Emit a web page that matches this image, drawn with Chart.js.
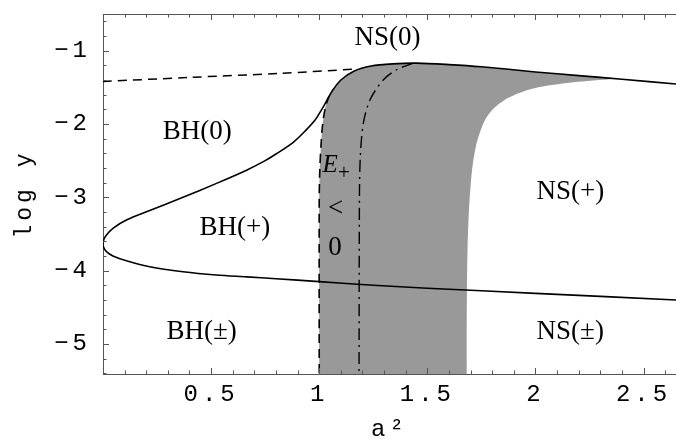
<!DOCTYPE html>
<html lang="en">
<head>
<meta charset="UTF-8">
<title>log y against a²</title>
<script src="https://cdn.jsdelivr.net/npm/chart.js"></script>
<style>
  html, body { margin: 0; padding: 0; background: #fff; }
  #wrap { width: 676px; height: 439px; }
</style>
</head>
<body>
<div id="wrap"><canvas id="phase"></canvas></div>
<script>
// axis ranges
const xRange = [0, 2.65];
const yRange = [-5.41, -0.5];

// solid boundary, nose at a² = 0
const noseA = [0];
const noseV = [-3.637];
const lowerA = [0.004, 0.016, 0.046, 0.108, 0.216, 0.37, 0.525, 0.664, 0.8, 1.0, 1.25, 1.5, 2.0, 2.65];
const lowerV = [-3.69, -3.74, -3.80, -3.865, -3.947, -4.015, -4.06, -4.085, -4.11, -4.15, -4.20, -4.24, -4.31, -4.40];
const upperA = [0.004, 0.016, 0.046, 0.108, 0.216, 0.37, 0.525, 0.664, 0.75, 0.8, 0.88, 0.94, 0.98, 1.01, 1.035, 1.06,
                1.10, 1.16, 1.24, 1.34, 1.45, 1.6, 1.75, 2.0, 2.2, 2.4, 2.65];
const upperV = [-3.575, -3.514, -3.423, -3.31, -3.18, -3.0, -2.81, -2.63, -2.50, -2.41, -2.25, -2.08, -1.95, -1.81, -1.68, -1.55,
                -1.40, -1.28, -1.21, -1.18, -1.17, -1.19, -1.22, -1.29, -1.34, -1.39, -1.455];

// grey region (E+ < 0), traced round its edge
const shadeA = [1.0, 1.0, 1.0, 1.003, 1.008, 1.016, 1.028, 1.045, 1.06, 1.10, 1.16, 1.24, 1.34, 1.45, 1.6, 1.75, 2.0, 2.2, 2.36,
                2.2, 2.05, 1.95, 1.87, 1.81, 1.77, 1.745, 1.725, 1.71, 1.70, 1.692, 1.686, 1.683, 1.682, 1.682, 1.682, 1.0];
const shadeV = [-5.6, -5.45, -3.0, -2.6, -2.3, -2.0, -1.78, -1.62, -1.55, -1.40, -1.28, -1.21, -1.18, -1.17, -1.19, -1.22, -1.29, -1.34, -1.38,
                -1.425, -1.48, -1.55, -1.65, -1.78, -1.93, -2.1, -2.3, -2.55, -2.85, -3.2, -3.7, -4.3, -5.0, -5.45, -5.6, -5.6];

// dashed and dash-dotted curves
const topDashA = [0, 0.4, 0.82, 1.17];
const topDashV = [-1.42, -1.365, -1.31, -1.25];
const leftDashA = [1.0, 1.0, 1.003, 1.008, 1.016, 1.028, 1.045];
const leftDashV = [-5.6, -3.0, -2.6, -2.3, -2.0, -1.78, -1.62];
const dotDashA = [1.184, 1.186, 1.19, 1.204, 1.235, 1.296, 1.358, 1.435];
const dotDashV = [-5.6, -3.0, -2.45, -1.99, -1.67, -1.40, -1.26, -1.17];

// region names
const regionLabels = [
  { text: 'NS(0)', a: 1.316, v: -0.82 },
  { text: 'BH(0)', a: 0.436, v: -2.11 },
  { text: 'BH(+)', a: 0.61, v: -3.42 },
  { text: 'BH(±)', a: 0.456, v: -4.83 },
  { text: 'NS(+)', a: 2.161, v: -2.93 },
  { text: 'NS(±)', a: 2.161, v: -4.83 },
  { text: '<', a: 1.076, v: -3.16 },
  { text: '0', a: 1.073, v: -3.685 }
];
const energyLabel = { main: 'E', sub: '+', a: 1.05, v: -2.57 };

const pts = (as, vs) => as.map((a, i) => ({ x: a, y: vs[i] }));

const solidPath = [
  ...pts(lowerA, lowerV).reverse(),
  ...pts(noseA, noseV),
  ...pts(upperA, upperV)
];

const monoFont = 'Liberation Mono, Courier New, monospace';
const serifFont = 'Liberation Serif, Times New Roman, serif';

// Mathematica style spaced tick labels
const spacedText = {
  id: 'spacedText',
  beforeDraw(chart) { chart.ctx.letterSpacing = '4px'; },
  beforeDatasetsDraw(chart) { chart.ctx.letterSpacing = '0px'; }
};

// inward tick marks and top frame line
const frameTicks = {
  id: 'frameTicks',
  afterDatasetsDraw(chart) {
    const { ctx, chartArea: ca, scales: { x, y } } = chart;
    ctx.save();
    ctx.strokeStyle = '#555';
    ctx.lineWidth = 1;
    ctx.beginPath();
    ctx.moveTo(ca.left, ca.top + 0.5);
    ctx.lineTo(ca.right, ca.top + 0.5);
    for (let i = 1; i * 0.1 <= xRange[1]; i++) {
      const px = Math.round(x.getPixelForValue(i * 0.1)) + 0.5;
      const len = i % 5 === 0 ? 6 : 3.5;
      ctx.moveTo(px, ca.bottom); ctx.lineTo(px, ca.bottom - len);
      ctx.moveTo(px, ca.top); ctx.lineTo(px, ca.top + len);
    }
    for (let i = -27; i <= -3; i++) {
      const py = Math.round(y.getPixelForValue(i * 0.2)) + 0.5;
      const len = i % 5 === 0 ? 6 : 3.5;
      ctx.moveTo(ca.left, py); ctx.lineTo(ca.left + len, py);
    }
    ctx.stroke();
    ctx.restore();
  }
};

const regionText = {
  id: 'regionText',
  afterDraw(chart) {
    const { ctx, scales: { x, y } } = chart;
    ctx.save();
    ctx.letterSpacing = '0px';
    ctx.fillStyle = '#000';
    ctx.textAlign = 'center';
    ctx.textBaseline = 'middle';
    ctx.font = '27px ' + serifFont;
    regionLabels.forEach(l => {
      ctx.fillText(l.text, x.getPixelForValue(l.a), y.getPixelForValue(l.v));
    });
    const ex = x.getPixelForValue(energyLabel.a);
    const ey = y.getPixelForValue(energyLabel.v);
    ctx.font = 'italic 25px ' + serifFont;
    ctx.fillText(energyLabel.main, ex, ey);
    ctx.font = '21px ' + serifFont;
    ctx.textAlign = 'left';
    ctx.fillText(energyLabel.sub, ex + 8, ey + 8);
    ctx.restore();
  }
};

const curve = (data, extra) => Object.assign({
  data,
  showLine: true,
  borderColor: '#000',
  borderWidth: 1.5,
  tension: 0.3,
  pointRadius: 0
}, extra);

new Chart(document.getElementById('phase'), {
  type: 'scatter',
  data: {
    datasets: [
      curve(solidPath, { borderWidth: 1.6, capBezierPoints: false }),
      curve(pts(topDashA, topDashV), { borderDash: [9, 6] }),
      curve(pts(leftDashA, leftDashV), { borderWidth: 1.6, borderDash: [9, 6] }),
      curve(pts(dotDashA, dotDashV), { borderWidth: 1.4, borderDash: [12, 5, 2, 5] }),
      // drawn first, so it sits under the curves
      curve(pts(shadeA, shadeV), {
        borderWidth: 0,
        borderColor: 'rgba(0,0,0,0)',
        backgroundColor: '#999999',
        fill: 'shape',
        tension: 0.25
      })
    ]
  },
  options: {
    responsive: true,
    maintainAspectRatio: false,
    animation: false,
    layout: { padding: { top: 14, left: 0, right: 0, bottom: 0 } },
    plugins: {
      legend: { display: false },
      tooltip: { enabled: false }
    },
    scales: {
      x: {
        type: 'linear',
        min: xRange[0],
        max: xRange[1],
        grid: { display: false, drawTicks: false },
        border: { display: true, color: '#555', width: 1 },
        ticks: {
          stepSize: 0.5,
          includeBounds: false,
          maxRotation: 0,
          padding: 6,
          color: '#000',
          font: { family: monoFont, size: 24 },
          callback: v => (v === 0 ? '' : String(v))
        },
        title: {
          display: true,
          text: 'a²',
          color: '#000',
          padding: { top: 0, bottom: 0 },
          font: { family: monoFont, size: 24, lineHeight: 0.74 }
        },
        afterFit(scale) {
          scale.height = 65;
          scale.paddingLeft = 0;
          scale.paddingRight = 0;
        }
      },
      y: {
        type: 'linear',
        min: yRange[0],
        max: yRange[1],
        grid: { display: false, drawTicks: false },
        border: { display: true, color: '#555', width: 1 },
        ticks: {
          stepSize: 1,
          includeBounds: false,
          padding: 12,
          color: '#000',
          font: { family: monoFont, size: 24 },
          callback: v => String(v).replace('-', '\u2212')
        },
        title: {
          display: true,
          text: 'log y',
          color: '#000',
          padding: { top: 11, bottom: 0 },
          font: { family: monoFont, size: 23 }
        },
        afterFit(scale) {
          scale.width = 103;
          scale.paddingTop = 0;
          scale.paddingBottom = 0;
        }
      }
    }
  },
  plugins: [spacedText, frameTicks, regionText]
});
</script>
</body>
</html>
